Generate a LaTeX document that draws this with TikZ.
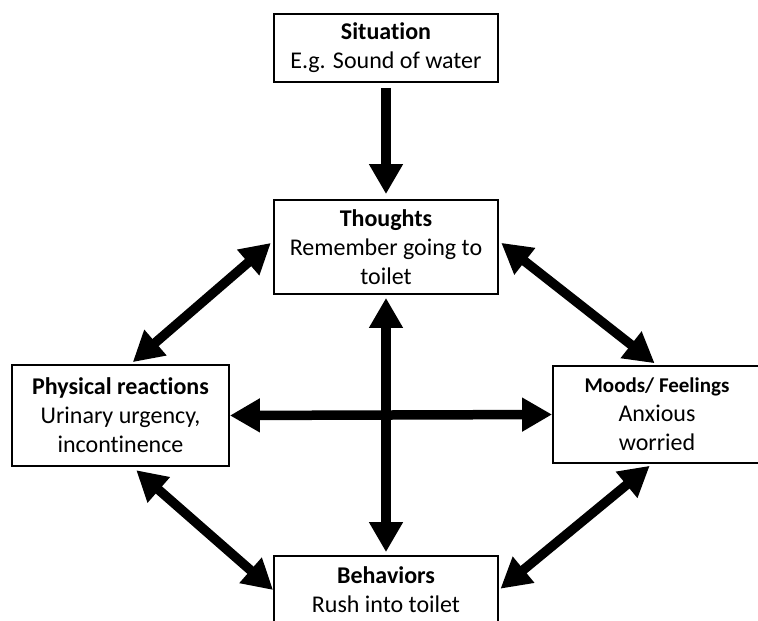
\documentclass[tikz,border=0pt]{standalone}
\usepackage{fontspec}
\setmainfont{Carlito}[Ligatures=NoCommon]
\usepackage{tikz}
\usetikzlibrary{arrows.meta,positioning,calc}

\begin{document}
\begin{tikzpicture}[x=1pt, y=-1pt,
    box/.style={draw, line width=1.8pt, align=center, inner sep=0pt,
                font=\fontsize{24}{29}\selectfont},
    link/.style={line width=9.5pt, {Triangle[length=30pt,width=32pt]}-{Triangle[length=30pt,width=32pt]}},
    oneway/.style={line width=10pt, -{Triangle[length=30pt,width=32pt]}}]
  \useasboundingbox (0,0) rectangle (758,621);
  \clip (0,0) rectangle (758,621);
  % boxes
  \node[box, minimum width=224pt, minimum height=68pt] (sit) at (386,48)
       {\textbf{Situation}\\E.g. Sound of water};
  \node[box, minimum width=224pt, minimum height=94pt] (thoughts) at (386,247)
       {\textbf{Thoughts}\\Remember going to\\toilet};
  \node[box, minimum width=217pt, minimum height=101pt] (phys) at (120.5,415.5)
       {\textbf{Physical reactions}\\Urinary urgency,\\incontinence};
  \node[box, minimum width=208pt, minimum height=97pt] (moods) at (657,414.5)
       {{\fontsize{21}{29}\selectfont\textbf{Moods/ Feelings}}\\Anxious\\worried};
  \node[box, minimum width=224pt, minimum height=68pt] (behav) at (386,590)
       {\textbf{Behaviors}\\Rush into toilet};
  % connectors
  \draw[oneway, shorten <=5pt, shorten >=5pt] (sit.south) -- (thoughts.north);
  \draw[link, shorten <=3pt, shorten >=3pt] (thoughts.south) -- (behav.north);
  \draw[link] (phys.east) -- (moods.west);
  \draw[link, shorten <=3pt, shorten >=3pt] ($(thoughts.west)+(0,-6)$) -- ($(phys.north)+(10,0)$);
  \draw[link, shorten <=3pt, shorten >=3pt] ($(thoughts.east)+(0,-6)$) -- (moods.north);
  \draw[link, shorten <=5pt] ($(phys.south)+(12,0)$) -- (behav.west);
  \draw[link, shorten <=3pt, shorten >=2pt] ($(moods.south)+(-5,0)$) -- (behav.east);
\end{tikzpicture}
\end{document}
